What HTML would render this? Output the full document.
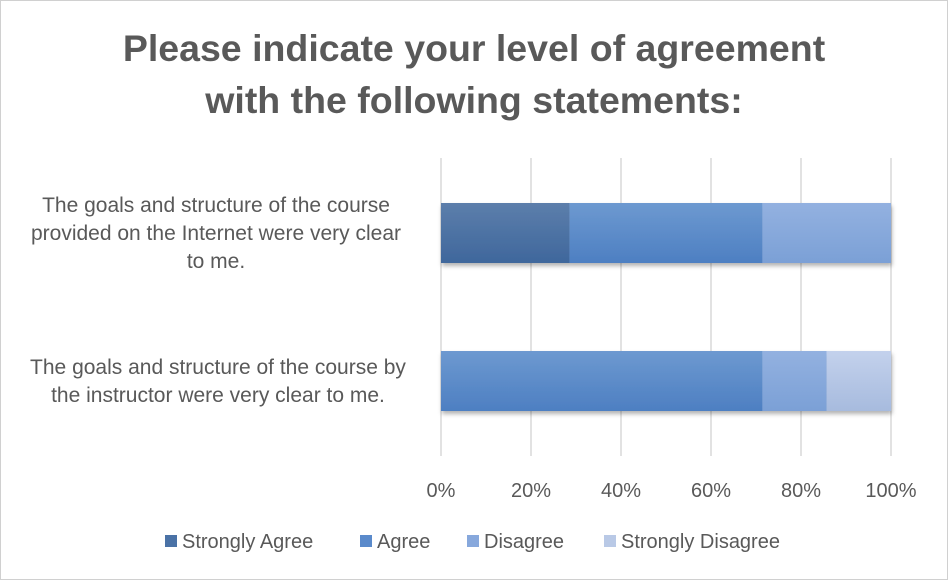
<!DOCTYPE html>
<html><head><meta charset="utf-8"><style>
body{margin:0;background:#fff;}
svg{display:block;font-family:"Liberation Sans",sans-serif;}
</style></head><body>
<svg id="chart" width="948" height="580">
<defs>
<linearGradient id="g0" x1="0" y1="0" x2="0" y2="1"><stop offset="0" stop-color="#5c7eab"/><stop offset="1" stop-color="#3f679c"/></linearGradient>
<linearGradient id="g1" x1="0" y1="0" x2="0" y2="1"><stop offset="0" stop-color="#6d99d0"/><stop offset="1" stop-color="#4d7fc2"/></linearGradient>
<linearGradient id="g2" x1="0" y1="0" x2="0" y2="1"><stop offset="0" stop-color="#93b1e0"/><stop offset="1" stop-color="#7ba0d6"/></linearGradient>
<linearGradient id="g3" x1="0" y1="0" x2="0" y2="1"><stop offset="0" stop-color="#c3d1ec"/><stop offset="1" stop-color="#a7bbde"/></linearGradient>
<filter id="sh" x="-5%" y="-10%" width="110%" height="130%"><feDropShadow dx="1" dy="3" stdDeviation="2" flood-color="#000" flood-opacity="0.3"/></filter>
</defs>
<rect x="0.5" y="0.5" width="947" height="579" fill="#fff" stroke="#d0d0d0"/>
<text x="474" y="61" text-anchor="middle" font-size="37.5" font-weight="bold" fill="#595959">Please indicate your level of agreement</text>
<text x="474" y="113" text-anchor="middle" font-size="37.5" font-weight="bold" fill="#595959">with the following statements:</text>
<g id="grid"></g><g id="bars"></g><g id="labels"></g><g id="legend"></g>
</svg>
<script>
const categories=[["The goals and structure of the course","provided on the Internet were very clear","to me."],["The goals and structure of the course by","the instructor were very clear to me."]];
const seriesNames=["Strongly Agree","Agree","Disagree","Strongly Disagree"];
const stronglyAgree=[28.57,0];
const agree=[42.86,71.43];
const disagree=[28.57,14.29];
const stronglyDisagree=[0,14.29];
const tickLabels=["0%","20%","40%","60%","80%","100%"];
const ticks=[0,20,40,60,80,100];
const NS="http://www.w3.org/2000/svg";
const x0=441,x1=891,yTop=158,yBot=456;
const xs=v=>x0+(x1-x0)*v/100;
const bandY=i=>[203,351][i];
const barH=60;
function mk(t,a,p){const e=document.createElementNS(NS,t);for(const k in a)e.setAttribute(k,a[k]);p.appendChild(e);return e;}
const grid=document.getElementById('grid'),bars=document.getElementById('bars'),labels=document.getElementById('labels'),legend=document.getElementById('legend');
ticks.forEach((t,i)=>{
 const l=mk('line',{x1:xs(t),x2:xs(t),y1:yTop,y2:yBot,stroke:'#d9d9d9','stroke-width':1.5},grid);
 
 
 const tx=mk('text',{x:xs(t),y:497,'text-anchor':'middle','font-size':20,fill:'#595959'},labels);
 tx.textContent=tickLabels[i];
 
 
});
const series=[stronglyAgree,agree,disagree,stronglyDisagree];
categories.forEach((c,i)=>{
 let acc=0;
 const g=mk('g',{filter:'url(#sh)'},bars);
 series.forEach((s,k)=>{
  const v=s[i]; if(v<=0){return;}
  const r=mk('rect',{x:xs(acc),y:bandY(i),width:xs(acc+v)-xs(acc),height:barH,fill:'url(#g'+k+')'},g);
  
  
  acc+=v;
 });
 const n=c.length, cy=bandY(i)+barH/2, lh=28;
 c.forEach((line,j)=>{
  const tx=mk('text',{x:i==0?216:218,y:cy-(n-1)*lh/2+j*lh+7,'text-anchor':'middle','font-size':21,fill:'#595959'},labels);
  tx.textContent=line;
  
  
 });
});
const lx=[165,360,467,604];
seriesNames.forEach((n,k)=>{
 const r=mk('rect',{x:lx[k],y:535,width:12,height:12,fill:['#4a72a6','#5a8acb','#87a8dc','#b9c9e6'][k]},legend);
 
 
 const t=mk('text',{x:lx[k]+17,y:548,'font-size':20,fill:'#595959'},legend);
 t.textContent=n;
 
 
});
</script>
</body></html>
